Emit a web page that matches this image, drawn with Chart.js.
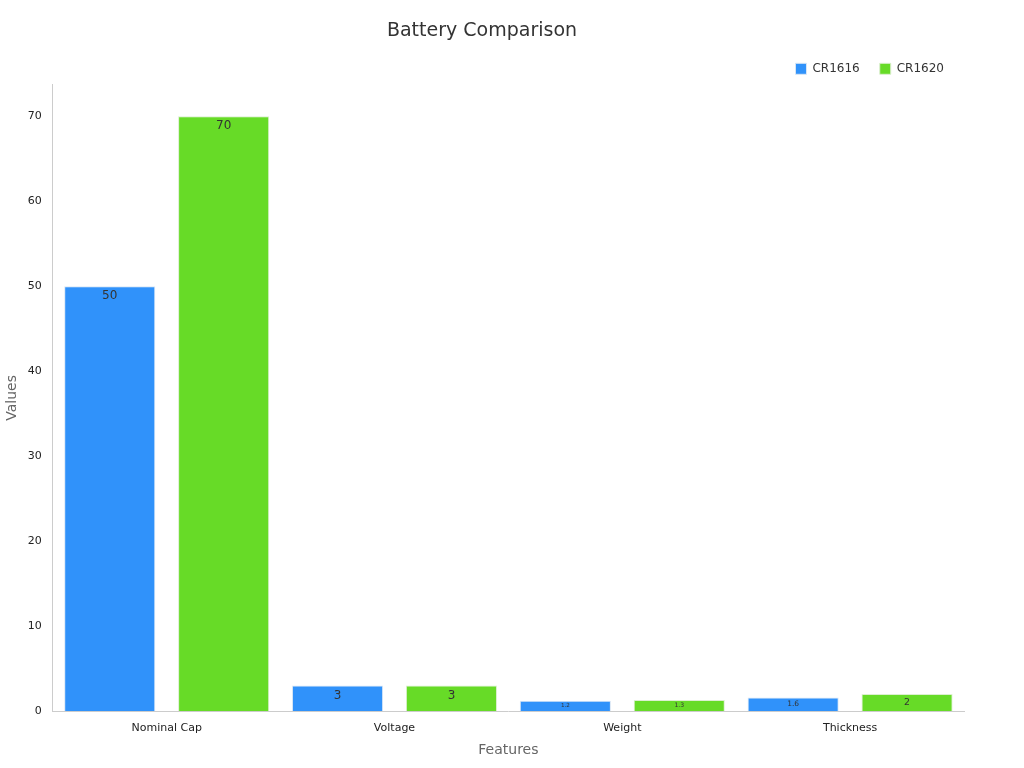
<!DOCTYPE html>
<html><head><script src="https://cdn.jsdelivr.net/npm/chart.js@4"></script>
<style>body{margin:0;background:#fff}#w{width:1024px;height:768px}</style></head>
<body><div id="w"><canvas id="c"></canvas></div>
<script>
const categories=["Nominal Cap","Voltage","Weight","Thickness"];
const cr1616=[50,3,1.2,1.6];
const cr1620=[70,3,1.3,2];
const labelPlugin={id:'lbl',afterDatasetsDraw(ch){const ctx=ch.ctx;ch.data.datasets.forEach((ds,i)=>{ch.getDatasetMeta(i).data.forEach((b,j)=>{const h=b.base-b.y;const fs=Math.max(3,Math.min(12,h*0.55));ctx.save();ctx.fillStyle='#333';ctx.font=fs+'px "DejaVu Sans"';ctx.textAlign='center';ctx.textBaseline='middle';ctx.fillText(String(ds.data[j]),b.x,Math.min(b.y+10,b.y+h/2));ctx.restore();});});}};
new Chart(document.getElementById('c'),{type:'bar',
data:{labels:categories,datasets:[
{label:'CR1616',data:cr1616,backgroundColor:'#3092fa',borderColor:'#d8e6f5',borderWidth:1},
{label:'CR1620',data:cr1620,backgroundColor:'#67db27',borderColor:'#dcefd0',borderWidth:1}]},
options:{responsive:true,maintainAspectRatio:false,animation:false,
layout:{padding:{left:0,right:60,top:10,bottom:5}},
datasets:{bar:{barPercentage:0.8,categoryPercentage:1}},
plugins:{title:{display:true,text:'Battery Comparison',color:'#333',font:{family:'DejaVu Sans',size:19,weight:'normal'},padding:{top:10,bottom:0}},
legend:{align:'end',labels:{boxWidth:11,boxHeight:11,padding:20,color:'#333',font:{family:'DejaVu Sans',size:12}}},tooltip:{enabled:false}},
scales:{x:{grid:{display:false},border:{color:'#ccc'},ticks:{color:'#222',font:{family:'DejaVu Sans',size:11}},title:{display:true,text:'Features',color:'#666',font:{family:'DejaVu Sans',size:14}}},
y:{min:0,max:73.7,grid:{display:false,drawTicks:true},border:{color:'#ccc'},afterBuildTicks(a){a.ticks=a.ticks.filter(t=>t.value%10===0);},ticks:{stepSize:10,color:'#222',font:{family:'DejaVu Sans',size:11}},title:{display:true,text:'Values',color:'#666',font:{family:'DejaVu Sans',size:14}}}}},
plugins:[labelPlugin]});
</script></body></html>
